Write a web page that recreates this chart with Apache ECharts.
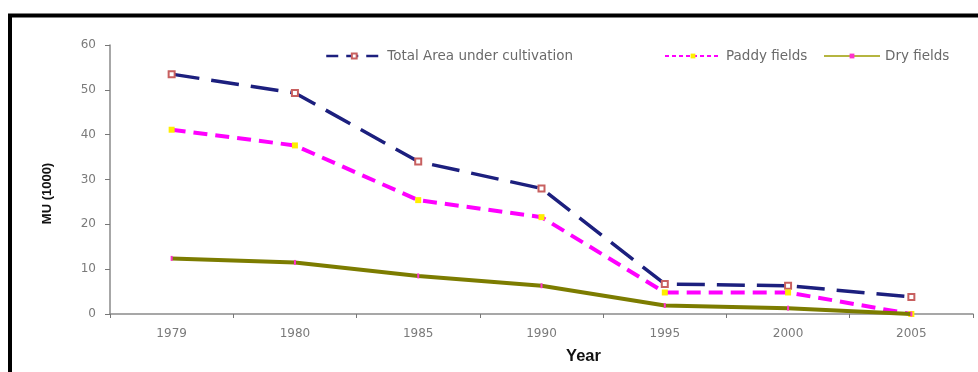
<!DOCTYPE html>
<html>
<head>
<meta charset="utf-8">
<script src="https://cdn.jsdelivr.net/npm/echarts@6/dist/echarts.min.js"></script>
<style>
  html, body { margin: 0; padding: 0; background: #fff; }
  #chart { width: 978px; height: 372px; }
</style>
</head>
<body>
<div id="chart"></div>
<script>
// Cultivated land, thousands of mu
const years = ['1979', '1980', '1985', '1990', '1995', '2000', '2005'];
const totalArea = [53.5, 49.3, 34.0, 28.0, 6.7, 6.3, 3.8];
const paddyFields = [41.1, 37.6, 25.4, 21.6, 4.8, 4.8, 0.0];
const dryFields = [12.4, 11.5, 8.5, 6.3, 1.9, 1.3, 0.0];

const seriesNames = ['Total Area under cultivation', 'Paddy fields', 'Dry fields'];

const FONT = 'DejaVu Sans';
const TITLE_FONT = 'Liberation Sans';
const legendText = { fontFamily: FONT, fontSize: 13.5, color: '#6a6a6a' };

function legendFor(name, left, lineStyle) {
  return {
    data: [name], left: left, top: 49, itemWidth: 56, itemHeight: 6, itemGap: 0,
    textStyle: legendText, padding: 0, lineStyle: lineStyle
  };
}

const chart = echarts.init(document.getElementById('chart'), null, { renderer: 'canvas' });
chart.setOption({
  backgroundColor: '#fff',
  animation: false,
  graphic: [{
    type: 'rect',
    shape: { x: 10, y: 15.5, width: 1400, height: 800 },
    style: { fill: null, stroke: '#000', lineWidth: 4 },
    silent: true
  }],
  legend: [
    legendFor(seriesNames[0], 325, { width: 2.5, type: [12, 8] }),
    legendFor(seriesNames[1], 664, { width: 2, type: [4, 3] }),
    legendFor(seriesNames[2], 823, { width: 2, color: '#b5b540' })
  ],
  grid: { left: 110, right: 5, top: 45, bottom: 58 },
  xAxis: {
    type: 'category',
    data: years,
    boundaryGap: true,
    name: 'Year',
    nameLocation: 'middle',
    nameGap: 34,
    nameTextStyle: { fontFamily: TITLE_FONT, fontSize: 16.5, fontWeight: 'bold', color: '#111', padding: [0, 0, 0, 84] },
    axisLine: { lineStyle: { color: '#8a8a8a', width: 1.5 } },
    axisTick: { show: true, length: 4, lineStyle: { color: '#777' } },
    axisLabel: { fontFamily: FONT, fontSize: 12, color: '#7a7a7a', margin: 14 },
    splitLine: { show: false }
  },
  yAxis: {
    type: 'value',
    min: 0, max: 60, interval: 10,
    name: 'MU (1000)',
    nameLocation: 'middle',
    nameGap: 56,
    nameTextStyle: { fontFamily: TITLE_FONT, fontSize: 13, fontWeight: 'bold', color: '#111', padding: [0, 28, 0, 0] },
    axisLine: { show: true, lineStyle: { color: '#8a8a8a', width: 1.5 } },
    axisTick: { show: true, length: 5, lineStyle: { color: '#777' } },
    axisLabel: { fontFamily: FONT, fontSize: 12, color: '#7a7a7a', margin: 14 },
    splitLine: { show: false }
  },
  series: [
    {
      name: seriesNames[0], type: 'line', data: totalArea,
      symbol: 'emptyRect', symbolSize: 6, showSymbol: true,
      lineStyle: { color: '#1c1f7e', width: 3.5, type: [28, 12] },
      itemStyle: { color: '#c86060', borderWidth: 1.5 },
      z: 2
    },
    {
      name: seriesNames[1], type: 'line', data: paddyFields,
      symbol: 'rect', symbolSize: 6,
      lineStyle: { color: '#ff00ff', width: 4, type: [14, 8] },
      itemStyle: { color: '#ffee00' },
      z: 3
    },
    {
      name: seriesNames[2], type: 'line', data: dryFields,
      symbol: 'rect', symbolSize: [2, 5],
      lineStyle: { color: '#7c7c00', width: 4 },
      itemStyle: { color: '#ff33cc' },
      z: 4
    }
  ]
});
</script>
</body>
</html>
